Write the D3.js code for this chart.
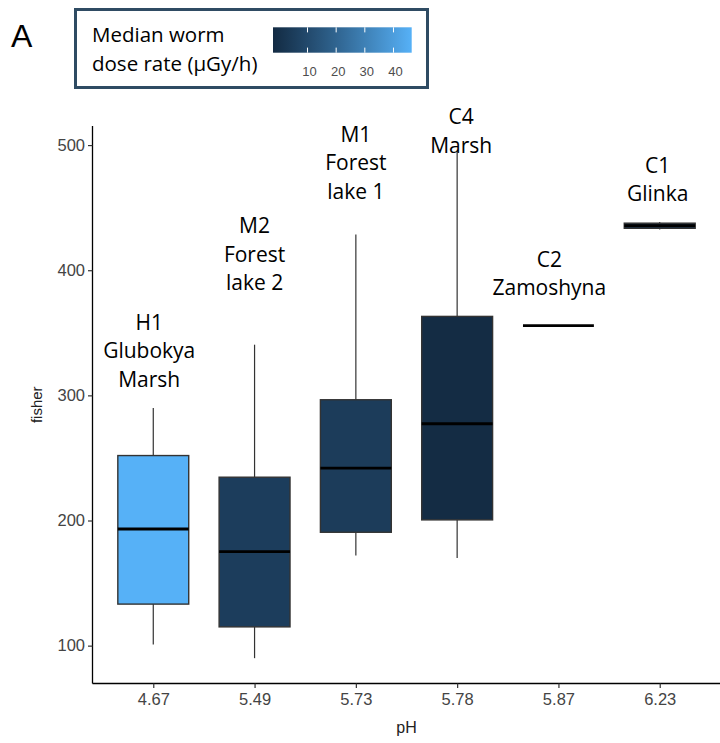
<!DOCTYPE html>
<html><head><meta charset="utf-8">
<script src="https://cdn.jsdelivr.net/npm/d3@7"></script>
<style>body{margin:0;background:#fff}svg{display:block}</style>
</head><body>
<script>
// ---- data ----
const phLabels = ["4.67","5.49","5.73","5.78","5.87","6.23"];
const siteLabels = [["H1","Glubokya","Marsh"],["M2","Forest","lake 2"],["M1","Forest","lake 1"],["C4","Marsh"],["C2","Zamoshyna"],["C1","Glinka"]];
const labelY = [307, 384, 457, 494, 380, 455];          // baseline of last label line, data units
const labelDx = [-0.04, 0, 0, 0.04, -0.09, -0.02];      // label x shift, in category units
const lowerWhisker = [101, 90, 172, 170, 355.7, 432.6];
const q1 = [133.2, 115, 190.6, 200.5, 355.7, 433.5];
const median = [193.2, 175.1, 241.8, 277.3, 355.7, 435.6];
const q3 = [251.9, 234.6, 296.5, 363.1, 355.7, 437.6];
const upperWhisker = [290, 340.5, 428.5, 495, 355.7, 438.5];
const doseRate = [46.5, 7.5, 7.0, 0.9, 1.5, 0.5];
const yTicks = [100, 200, 300, 400, 500];
const legendTicks = [10, 20, 30, 40];

const W = 720, H = 743;
const svg = d3.select("body").append("svg").attr("width", W).attr("height", H);

const panel = {l: 92.5, r: 720.5, t: 126, b: 683.5};
// ggplot discrete expansion: 0.6 units on each side
const step = (panel.r - panel.l) / (phLabels.length - 1 + 1.2);
const xc = d3.scalePoint().domain(phLabels).range([panel.l + 0.6*step, panel.r - 0.6*step]);
const yMin = d3.min(lowerWhisker), yMax = d3.max(upperWhisker);
const pad = 0.05*(yMax - yMin);
const y = d3.scaleLinear().domain([yMin - pad, yMax + pad]).range([panel.b, panel.t]);
const dmin = d3.min(doseRate), dmax = d3.max(doseRate);
const color = d3.scaleLinear().domain([dmin, dmax]).range(["#132B43", "#56B1F7"]).interpolate(d3.interpolateLab);

const rows = phLabels.map((p,i)=>({p, lw:lowerWhisker[i], q1:q1[i], med:median[i], q3:q3[i], uw:upperWhisker[i], dose:doseRate[i], lab:siteLabels[i], ly:labelY[i], ldx:labelDx[i]}));
const bw = step*0.7;

// boxes
const g = svg.append("g");
rows.forEach(d=>{
  const cx = xc(d.p);
  const gg = g.append("g");
  gg.append("line").attr("x1",cx).attr("x2",cx).attr("y1",y(d.q3)).attr("y2",y(d.uw)).attr("stroke","#333").attr("stroke-width",1.2);
  gg.append("line").attr("x1",cx).attr("x2",cx).attr("y1",y(d.q1)).attr("y2",y(d.lw)).attr("stroke","#333").attr("stroke-width",1.2);
  gg.append("rect").attr("x",cx-bw/2).attr("width",bw).attr("y",y(d.q3)).attr("height",Math.max(0,y(d.q1)-y(d.q3)))
    .attr("fill",color(d.dose)).attr("stroke","#333").attr("stroke-width",1.4);
  gg.append("line").attr("x1",cx-bw/2).attr("x2",cx+bw/2).attr("y1",y(d.med)).attr("y2",y(d.med)).attr("stroke","#000").attr("stroke-width",2.8);
  const t = gg.append("text").attr("text-anchor","middle").attr("font-family","Open Sans").attr("font-size",21).attr("fill","#000");
  const n = d.lab.length;
  const tx = cx + d.ldx*step;
  d.lab.forEach((s,k)=>{
    t.append("tspan").attr("x",tx).attr("y",y(d.ly) - (n-1-k)*28.5).text(s);
  });
});

// axes
const yAxis = d3.axisLeft(y).tickValues(yTicks).tickSize(4.5).tickPadding(3);
const ya = svg.append("g").attr("transform",`translate(${panel.l},0)`).call(yAxis);
ya.select(".domain").attr("d",`M0,${panel.t}V${panel.b}`).attr("stroke","#000").attr("stroke-width",1.3);
ya.selectAll(".tick line").attr("stroke","#333").attr("stroke-width",1.2);
ya.selectAll(".tick text").attr("font-family","Liberation Sans, Arial").attr("font-size",16.5).attr("fill","#444");

const xAxis = d3.axisBottom(xc).tickSize(4.5).tickPadding(5);
const xa = svg.append("g").attr("transform",`translate(0,${panel.b})`).call(xAxis);
xa.select(".domain").attr("d",`M${panel.l},0H${panel.r}`).attr("stroke","#000").attr("stroke-width",1.3);
xa.selectAll(".tick line").attr("stroke","#333").attr("stroke-width",1.2);
xa.selectAll(".tick text").attr("font-family","Liberation Sans, Arial").attr("font-size",16.5).attr("fill","#444");

svg.append("text").attr("x",(panel.l+panel.r)/2).attr("y",733).attr("text-anchor","middle")
  .attr("font-family","Liberation Sans, Arial").attr("font-size",16).attr("fill","#222").text("pH");
svg.append("text").attr("transform",`translate(42,${(panel.t+panel.b)/2}) rotate(-90)`).attr("text-anchor","middle")
  .attr("font-family","Liberation Sans, Arial").attr("font-size",15).attr("fill","#222").text("fisher");

// panel letter
svg.append("text").attr("x",11).attr("y",47).attr("font-family","Liberation Sans, Arial").attr("font-size",32).attr("fill","#000").text("A");

// legend
const lg = svg.append("g");
lg.append("rect").attr("x",75.5).attr("y",9.5).attr("width",352).attr("height",78).attr("fill","#fff").attr("stroke","#2F4B63").attr("stroke-width",3);
const lt = lg.append("text").attr("font-family","Open Sans").attr("font-size",20.5).attr("fill","#000");
lt.append("tspan").attr("x",92).attr("y",41.5).text("Median worm");
lt.append("tspan").attr("x",92).attr("y",71).text("dose rate (\u00B5Gy/h)");

const bar = {x0:273, x1:411.7, y0:27.3, y1:52.7};
const defs = svg.append("defs");
const grad = defs.append("linearGradient").attr("id","cb").attr("x1","0%").attr("x2","100%");
d3.range(0,1.0001,0.1).forEach(f=>{
  grad.append("stop").attr("offset",(f*100)+"%").attr("stop-color",color(dmin + f*(dmax-dmin)));
});
lg.append("rect").attr("x",bar.x0).attr("y",bar.y0).attr("width",bar.x1-bar.x0).attr("height",bar.y1-bar.y0).attr("fill","url(#cb)");
const lx = d3.scaleLinear().domain([dmin,dmax]).range([280.3, 412.1]);
const th = (bar.y1-bar.y0)/5;
legendTicks.forEach(v=>{
  lg.append("line").attr("x1",lx(v)).attr("x2",lx(v)).attr("y1",bar.y0).attr("y2",bar.y0+th).attr("stroke","#fff").attr("stroke-width",1);
  lg.append("line").attr("x1",lx(v)).attr("x2",lx(v)).attr("y1",bar.y1-th).attr("y2",bar.y1).attr("stroke","#fff").attr("stroke-width",1);
  lg.append("text").attr("x",lx(v)+2).attr("y",75.5).attr("text-anchor","middle").attr("font-family","Liberation Sans, Arial").attr("font-size",13).attr("fill","#4D4D4D").text(v);
});
</script>
</body></html>
